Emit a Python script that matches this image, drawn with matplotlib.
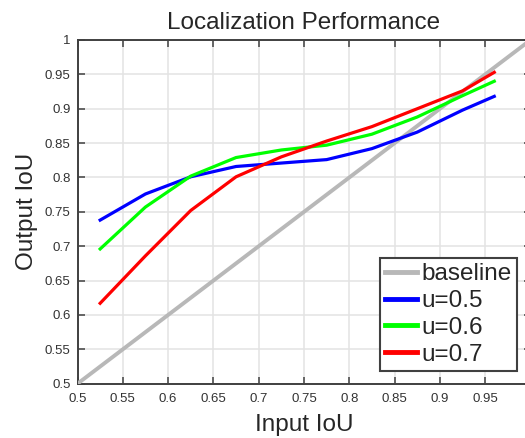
import matplotlib
matplotlib.use("Agg")
import matplotlib.pyplot as plt

plt.rcParams['font.family'] = ['Liberation Sans', 'DejaVu Sans']

# values
input_iou = [0.525, 0.575, 0.625, 0.675, 0.725, 0.775, 0.825, 0.875, 0.925, 0.96]
out_u05 = [0.738, 0.776, 0.801, 0.816, 0.821, 0.826, 0.842, 0.866, 0.898, 0.918]
out_u06 = [0.696, 0.757, 0.802, 0.829, 0.840, 0.847, 0.863, 0.888, 0.919, 0.940]
out_u07 = [0.617, 0.686, 0.752, 0.801, 0.830, 0.853, 0.874, 0.900, 0.926, 0.953]
baseline_x = [0.5, 1.0]
baseline_y = [0.5, 1.0]

x_ticks = [0.5, 0.55, 0.6, 0.65, 0.7, 0.75, 0.8, 0.85, 0.9, 0.95]
y_ticks = [0.5, 0.55, 0.6, 0.65, 0.7, 0.75, 0.8, 0.85, 0.9, 0.95, 1.0]

W, H = 525, 438
fig = plt.figure(figsize=(W / 100, H / 100), dpi=100)
# the axes run past the right edge of the image, like in the original screenshot
ax = fig.add_axes([77.5 / W, (H - 383.7) / H, (530.5 - 77.5) / W, (383.7 - 40) / H])

ax.plot(baseline_x, baseline_y, color='#b8b8b8', lw=2.8, label='baseline', zorder=3)
ax.plot(input_iou, out_u05, color='#0000ff', lw=2.3, label='u=0.5', zorder=4)
ax.plot(input_iou, out_u06, color='#00ff00', lw=2.3, label='u=0.6', zorder=4)
ax.plot(input_iou, out_u07, color='#ff0000', lw=2.3, label='u=0.7', zorder=5)

ax.set_xlim(0.5, 1.0)
ax.set_ylim(0.5, 1.0)
ax.set_xticks(x_ticks)
ax.set_xticklabels(['%g' % t for t in x_ticks])
ax.set_yticks(y_ticks)
ax.set_yticklabels(['%g' % t for t in y_ticks])

ax.grid(True, color='#e3e3e3', lw=1.1, zorder=0)
ax.set_axisbelow(True)
for side in ['left', 'bottom', 'top', 'right']:
    ax.spines[side].set_color('#404040')
    ax.spines[side].set_linewidth(1.4)
ax.tick_params(direction='in', length=5, width=1.1, color='#404040',
               labelsize=9.5, labelcolor='#333333', top=True, right=True)
ax.tick_params(axis='x', pad=7)
ax.tick_params(axis='y', pad=5)

ax.set_title('Localization Performance', fontsize=17.5, color='#262626', pad=8)
ax.set_xlabel('Input IoU', fontsize=17.5, color='#262626', labelpad=6)
ax.set_ylabel('Output IoU', fontsize=17.5, color='#262626', labelpad=5)

leg = ax.legend(loc='lower right', bbox_to_anchor=(516.7 / W, (H - 370.7) / H),
                bbox_transform=fig.transFigure, fontsize=17.5, fancybox=False,
                framealpha=1, edgecolor='#404040', borderpad=0.2, labelspacing=0.2,
                handlelength=1.3, handletextpad=0.2, borderaxespad=0)
leg.get_frame().set_linewidth(1.5)
for line in leg.get_lines():
    line.set_linewidth(3.5)
for txt in leg.get_texts():
    txt.set_color('#262626')

fig.savefig('out.png', dpi=100)
